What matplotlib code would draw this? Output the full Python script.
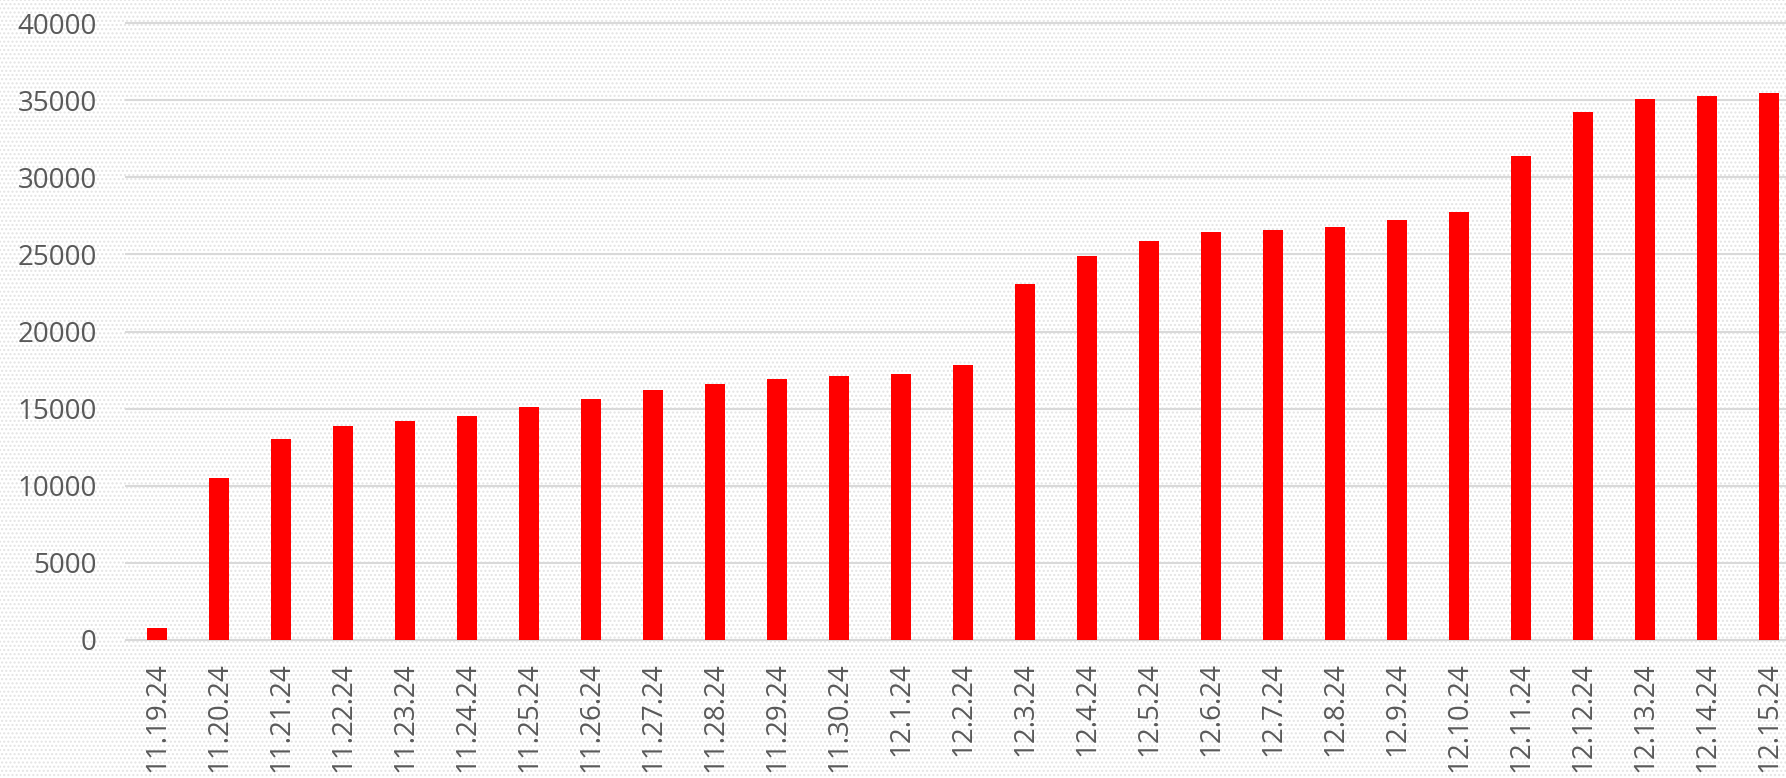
import matplotlib
matplotlib.use('Agg')
import matplotlib.pyplot as plt
from matplotlib.patches import Rectangle

dates = ['11.19.24', '11.20.24', '11.21.24', '11.22.24', '11.23.24', '11.24.24',
         '11.25.24', '11.26.24', '11.27.24', '11.28.24', '11.29.24', '11.30.24',
         '12.1.24', '12.2.24', '12.3.24', '12.4.24', '12.5.24', '12.6.24',
         '12.7.24', '12.8.24', '12.9.24', '12.10.24', '12.11.24', '12.12.24',
         '12.13.24', '12.14.24', '12.15.24']
values = [800, 10500, 13000, 13900, 14200, 14500,
          15100, 15650, 16200, 16600, 16950, 17100,
          17230, 17800, 23100, 24870, 25890, 26450,
          26600, 26800, 27250, 27730, 31350, 34200,
          35050, 35250, 35430]
yticks = [0, 5000, 10000, 15000, 20000, 25000, 30000, 35000, 40000]

W, H = 1786, 778
plt.rcParams['font.family'] = ['Open Sans', 'DejaVu Sans']

fig = plt.figure(figsize=(W / 100, H / 100), dpi=100)
fig.patch.set_facecolor('white')
# faint dotted texture like the original background fill
fig.patches.append(Rectangle((0, 0), 1, 1, transform=fig.transFigure,
                             facecolor='white', edgecolor='#e4e4e4',
                             hatch='....', linewidth=0, zorder=-10))

ax = fig.add_axes([126 / W, (H - 640) / H, (W - 126) / W, 617 / H])
ax.patch.set_alpha(0)

x = list(range(len(dates)))
ax.bar(x, values, width=0.32, color='#ff0000', zorder=3)

ax.set_xlim(-0.5, (W - 157) / 62)
ax.set_ylim(0, 40000)
ax.set_yticks(yticks)
ax.set_yticklabels([str(v) for v in yticks])
ax.set_xticks(x)
ax.set_xticklabels(dates, rotation=90)

ax.grid(axis='y', color='#d9d9d9', linewidth=1.5, zorder=0)
for gl in ax.get_ygridlines():
    gl.set_clip_on(False)
for s in ax.spines.values():
    s.set_visible(False)

ax.tick_params(axis='y', length=0, pad=21, labelsize=20, labelcolor='#595959')
ax.tick_params(axis='x', length=0, pad=16, labelsize=20, labelcolor='#595959')

fig.savefig('out.png', dpi=100)
